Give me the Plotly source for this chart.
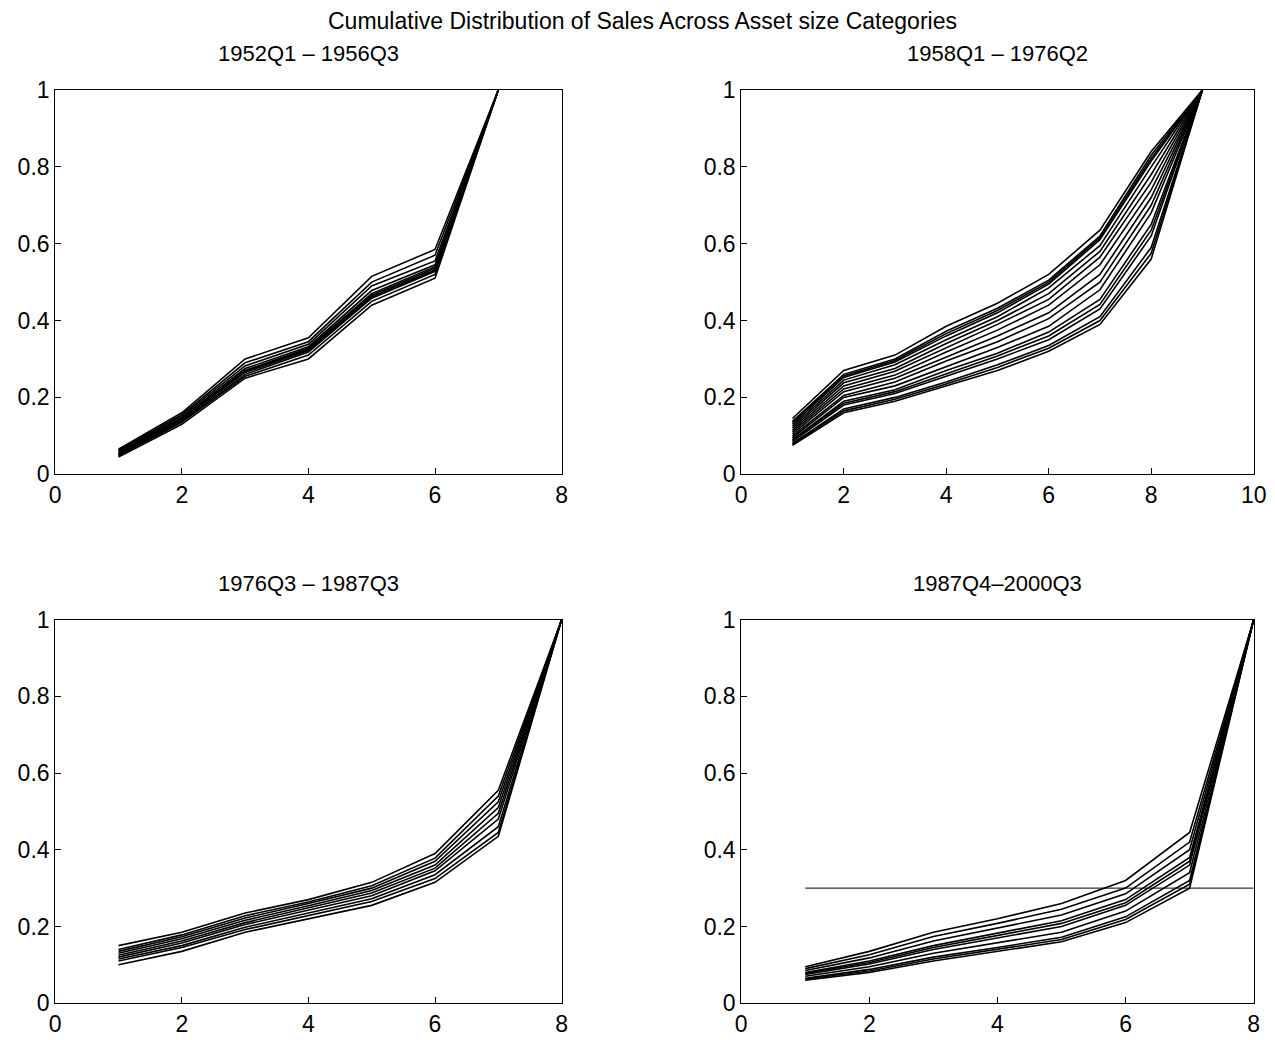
import plotly.graph_objects as go

# asset size categories per period
cats_a = [1, 2, 3, 4, 5, 6, 7]
cats_b = [1, 2, 3, 4, 5, 6, 7, 8, 9]
cats_c = [1, 2, 3, 4, 5, 6, 7, 8]
cats_d = [1, 2, 3, 4, 5, 6, 7, 8]

# cumulative sales shares, one row per quarter
sales_a = [
    [0.045, 0.130, 0.250, 0.300, 0.440, 0.510, 1.0],
    [0.048, 0.135, 0.255, 0.310, 0.450, 0.520, 1.0],
    [0.050, 0.138, 0.260, 0.318, 0.458, 0.528, 1.0],
    [0.052, 0.142, 0.265, 0.322, 0.462, 0.532, 1.0],
    [0.055, 0.145, 0.270, 0.328, 0.470, 0.540, 1.0],
    [0.057, 0.148, 0.275, 0.332, 0.478, 0.545, 1.0],
    [0.060, 0.152, 0.282, 0.338, 0.490, 0.555, 1.0],
    [0.062, 0.155, 0.290, 0.345, 0.500, 0.570, 1.0],
    [0.065, 0.160, 0.300, 0.355, 0.515, 0.585, 1.0],
    [0.053, 0.143, 0.268, 0.325, 0.466, 0.536, 1.0],
]
sales_b = [
    [0.075, 0.160, 0.190, 0.230, 0.270, 0.320, 0.390, 0.560, 1.0],
    [0.078, 0.165, 0.195, 0.235, 0.278, 0.328, 0.400, 0.575, 1.0],
    [0.080, 0.170, 0.200, 0.240, 0.285, 0.335, 0.410, 0.590, 1.0],
    [0.085, 0.180, 0.210, 0.255, 0.300, 0.350, 0.430, 0.620, 1.0],
    [0.088, 0.185, 0.215, 0.262, 0.308, 0.360, 0.442, 0.635, 1.0],
    [0.090, 0.190, 0.220, 0.270, 0.315, 0.370, 0.455, 0.650, 1.0],
    [0.095, 0.200, 0.230, 0.280, 0.330, 0.385, 0.480, 0.680, 1.0],
    [0.100, 0.205, 0.240, 0.295, 0.345, 0.405, 0.500, 0.700, 1.0],
    [0.105, 0.215, 0.250, 0.305, 0.360, 0.420, 0.520, 0.720, 1.0],
    [0.110, 0.222, 0.258, 0.318, 0.375, 0.440, 0.545, 0.740, 1.0],
    [0.115, 0.230, 0.268, 0.330, 0.390, 0.455, 0.565, 0.760, 1.0],
    [0.120, 0.238, 0.275, 0.340, 0.400, 0.470, 0.580, 0.780, 1.0],
    [0.125, 0.245, 0.285, 0.350, 0.410, 0.485, 0.595, 0.800, 1.0],
    [0.130, 0.252, 0.292, 0.360, 0.420, 0.495, 0.610, 0.815, 1.0],
    [0.135, 0.256, 0.296, 0.366, 0.426, 0.500, 0.615, 0.822, 1.0],
    [0.138, 0.260, 0.300, 0.372, 0.432, 0.505, 0.620, 0.830, 1.0],
    [0.145, 0.270, 0.310, 0.385, 0.445, 0.520, 0.635, 0.840, 1.0],
]
sales_c = [
    [0.100, 0.135, 0.185, 0.220, 0.255, 0.315, 0.435, 1.0],
    [0.110, 0.145, 0.192, 0.228, 0.265, 0.325, 0.445, 1.0],
    [0.115, 0.150, 0.198, 0.235, 0.272, 0.335, 0.460, 1.0],
    [0.120, 0.157, 0.205, 0.242, 0.280, 0.345, 0.480, 1.0],
    [0.125, 0.162, 0.210, 0.248, 0.287, 0.352, 0.495, 1.0],
    [0.130, 0.168, 0.216, 0.254, 0.294, 0.360, 0.510, 1.0],
    [0.135, 0.173, 0.222, 0.260, 0.300, 0.370, 0.525, 1.0],
    [0.140, 0.178, 0.228, 0.264, 0.306, 0.378, 0.540, 1.0],
    [0.150, 0.185, 0.235, 0.270, 0.315, 0.390, 0.555, 1.0],
]
sales_d = [
    [0.060, 0.080, 0.110, 0.135, 0.160, 0.210, 0.300, 1.0],
    [0.063, 0.084, 0.115, 0.140, 0.166, 0.218, 0.310, 1.0],
    [0.065, 0.088, 0.120, 0.145, 0.172, 0.225, 0.320, 1.0],
    [0.070, 0.095, 0.130, 0.158, 0.185, 0.240, 0.340, 1.0],
    [0.075, 0.102, 0.140, 0.170, 0.200, 0.255, 0.360, 1.0],
    [0.078, 0.106, 0.145, 0.176, 0.208, 0.262, 0.370, 1.0],
    [0.080, 0.110, 0.150, 0.182, 0.215, 0.270, 0.380, 1.0],
    [0.085, 0.118, 0.162, 0.195, 0.230, 0.285, 0.400, 1.0],
    [0.090, 0.126, 0.174, 0.208, 0.245, 0.300, 0.420, 1.0],
    [0.095, 0.135, 0.185, 0.220, 0.260, 0.320, 0.445, 1.0],
]
ref_x = [1, 8]
ref_y = [0.3, 0.3]

titles = ['1952Q1 \u2013 1956Q3', '1958Q1 \u2013 1976Q2', '1976Q3 \u2013 1987Q3', '1987Q4\u20132000Q3']

fig = go.Figure()
panels = [(cats_a, sales_a), (cats_b, sales_b), (cats_c, sales_c), (cats_d, sales_d)]
for i, (xs, rows) in enumerate(panels):
    n = '' if i == 0 else str(i + 1)
    for r in rows:
        fig.add_trace(go.Scatter(x=xs, y=r, mode='lines', line=dict(color='black', width=1.6),
                                 xaxis='x' + n, yaxis='y' + n, showlegend=False))
fig.add_trace(go.Scatter(x=ref_x, y=ref_y, mode='lines', line=dict(color='black', width=1),
                         xaxis='x4', yaxis='y4', showlegend=False))

xdoms = [[0.0328, 0.436], [0.579, 0.987], [0.0328, 0.436], [0.579, 0.987]]
ydoms = [[0.553, 0.932], [0.553, 0.932], [0.0314, 0.4096], [0.0314, 0.4096]]
xmax = [8, 10, 8, 8]
ax = dict(showgrid=False, zeroline=False, showline=True, linecolor='black', linewidth=1,
          mirror=True, ticks='inside', ticklen=6, tickcolor='black', tickfont=dict(size=23))
lay = {}
for i in range(4):
    n = '' if i == 0 else str(i + 1)
    lay['xaxis' + n] = dict(ax, domain=xdoms[i], range=[0, xmax[i]], dtick=2, anchor='y' + n)
    lay['yaxis' + n] = dict(ax, domain=ydoms[i], range=[0, 1], anchor='x' + n,
                            tickvals=[0, 0.2, 0.4, 0.6, 0.8, 1], ticktext=['0', '0.2', '0.4', '0.6', '0.8', '1'])

anns = [dict(text='Cumulative Distribution of Sales Across Asset size Categories', x=0.5, y=1.0,
             xref='paper', yref='paper', showarrow=False, font=dict(size=23), yanchor='middle',
             xanchor='center')]
for i in range(4):
    anns.append(dict(text=titles[i], x=sum(xdoms[i]) / 2, y=ydoms[i][1], xref='paper', yref='paper',
                     showarrow=False, font=dict(size=22), yanchor='bottom', xanchor='center', yshift=22))

fig.update_layout(**lay, annotations=anns, width=1275, height=1040, margin=dict(l=0, r=0, t=0, b=0),
                  paper_bgcolor='white', plot_bgcolor='white',
                  font=dict(family='Liberation Sans, Arial', color='black'))
fig.write_html('out.html')
